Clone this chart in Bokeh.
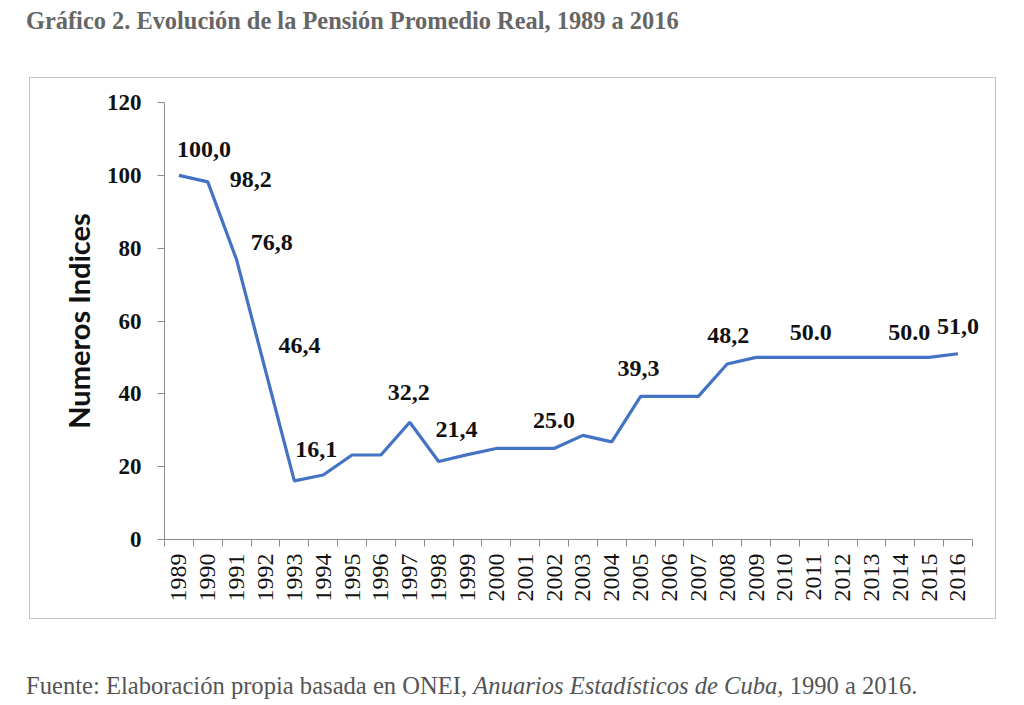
from math import pi
from bokeh.plotting import figure
from bokeh.models import Div, FixedTicker, Range1d, ColumnDataSource, LabelSet
from bokeh.layouts import column
from bokeh.embed import file_html
from bokeh.resources import INLINE

# ---------------- data ----------------
years = list(range(1989, 2017))
indices = [100.0, 98.2, 76.8, 46.4, 16.1, 17.7, 23.2, 23.2, 32.2, 21.4,
           23.3, 25.0, 25.0, 25.0, 28.6, 26.8, 39.3, 39.3, 39.3, 48.2,
           50.0, 50.0, 50.0, 50.0, 50.0, 50.0, 50.0, 51.0]
label_years = [1989, 1990, 1991, 1992, 1993, 1997, 1998, 2002, 2005, 2008, 2011, 2014, 2016]
label_texts = ["100,0", "98,2", "76,8", "46,4", "16,1", "32,2", "21,4",
               "25.0", "39,3", "48,2", "50.0", "50.0", "51,0"]
y_ticks = [0, 20, 40, 60, 80, 100, 120]

title_text = "Gráfico 2. Evolución de la Pensión Promedio Real, 1989 a 2016"
caption_text = ("Fuente: Elaboración propia basada en ONEI, "
                "<i>Anuarios Estadísticos de Cuba</i>, 1990 a 2016.")
y_label = "Numeros Indices"

# ---------------- layout / style ----------------
# label offsets in screen pixels (positive dy = upwards)
label_dx = [25, 43, 35, 34, 22, -1, 18, 0, -2, 1, -3, 9, 0]
label_dy = [26, 2, 17, 25, 31, 30, 32, 28, 28, 28, 25, 25, 27]

x_start = years[0] - 0.5
x_end = years[-1] + 0.5
p = figure(width=967, height=542, output_backend="svg", toolbar_location=None,
           x_range=Range1d(x_start, x_end + 0.8),
           y_range=Range1d(y_ticks[0], y_ticks[-1]),
           min_border_left=134, min_border_right=2, min_border_top=24, min_border_bottom=81,
           margin=(0, 0, 0, 29),
           styles={"border": "1px solid #c4c4c4"})
p.grid.visible = False
p.outline_line_color = None
p.background_fill_color = "white"
p.border_fill_color = "white"

# y axis
ya = p.yaxis[0]
ya.ticker = FixedTicker(ticks=y_ticks, minor_ticks=[])
ya.major_tick_in = 0
ya.major_tick_out = 7
ya.minor_tick_out = 0
ya.axis_line_color = "#8c8c8c"
ya.major_tick_line_color = "#8c8c8c"
ya.major_label_text_font = "Liberation Serif"
ya.major_label_text_font_style = "bold"
ya.major_label_text_font_size = "23px"
ya.major_label_text_color = "#111111"
ya.major_label_standoff = 16
ya.axis_label = y_label
ya.axis_label_text_font = "Lato"
ya.axis_label_text_font_style = "bold"
ya.axis_label_text_font_size = "29px"
ya.axis_label_text_color = "#111111"
ya.axis_label_standoff = 8

# x axis: labels at year centres, tick marks at boundaries (minor ticks)
xa = p.xaxis[0]
xa.bounds = (x_start, x_end)
xa.ticker = FixedTicker(ticks=years, minor_ticks=[y - 0.5 for y in years] + [x_end])
xa.major_tick_in = 0
xa.major_tick_out = 0
xa.minor_tick_in = 0
xa.minor_tick_out = 7
xa.axis_line_color = "#8c8c8c"
xa.minor_tick_line_color = "#8c8c8c"
xa.major_label_overrides = {y: str(y) for y in years}
xa.major_label_orientation = pi / 2
xa.major_label_text_font = "Liberation Serif"
xa.major_label_text_font_size = "24px"
xa.major_label_text_color = "#111111"
xa.major_label_standoff = 7

p.line(years, indices, line_color="#4472C4", line_width=3.2)

lab_vals = [indices[years.index(y)] for y in label_years]
src = ColumnDataSource(dict(x=label_years, y=lab_vals, t=label_texts, dx=label_dx, dy=label_dy))
labels = LabelSet(x="x", y="y", text="t", x_offset="dx", y_offset="dy", source=src,
                  text_font="Liberation Serif", text_font_style="bold",
                  text_font_size="24px", text_color="#111111",
                  text_align="center", text_baseline="middle")
p.add_layout(labels)

title = Div(text=title_text, width=990, height=73, margin=(4, 0, 0, 26),
            styles={"font-family": "Liberation Serif", "font-weight": "bold",
                    "font-size": "24.4px", "color": "#666666"})
caption = Div(text=caption_text, width=990, height=32, margin=(49, 0, 0, 26),
              styles={"font-family": "Liberation Serif", "font-size": "24.6px", "color": "#555555"})

layout = column(title, p, caption, spacing=0)
open("out.html", "w").write(file_html(layout, INLINE))
